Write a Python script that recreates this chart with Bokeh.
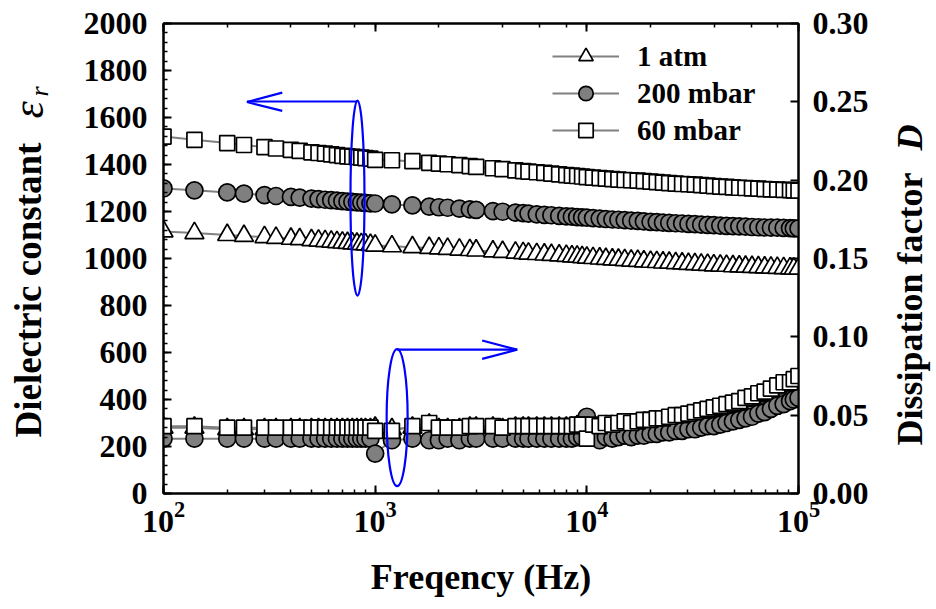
import math
from bokeh.plotting import figure
from bokeh.layouts import row
from bokeh.models import (LogAxis, LinearAxis, Range1d, Legend, LegendItem, Label,
                          FixedTicker, SingleIntervalTicker, NumeralTickFormatter)
from bokeh.embed import file_html
from bokeh.resources import INLINE

# ---------------- data ----------------
freq = [100, 140, 200, 240, 300, 340, 400, 440, 500, 540, 580, 620, 660, 700, 740, 780, 820, 860, 900, 950, 1000,
        1200, 1500, 1800, 2000, 2200, 2500, 2800, 3000, 3600, 4000, 4600, 5000, 5300, 5800, 6300, 6800, 7400, 8000,
        8500, 9000, 9500, 10000,
        10700, 11500, 12300, 13200, 14100, 15100, 16200, 17400, 18600, 20000, 21400, 22900, 24500, 26300, 28200,
        30200, 32400, 34700, 37200, 39800, 42700, 45700, 49000, 52500, 56200, 60300, 64600, 69200, 74100, 79400,
        85100, 91200, 95000, 100000]

eps_60mbar = [1519, 1505, 1491, 1483, 1474, 1468, 1462, 1458, 1452, 1449, 1446, 1443, 1440, 1437, 1435, 1433, 1431,
              1429, 1427, 1425, 1420,
              1418, 1414, 1407, 1404, 1401, 1397, 1393, 1390, 1384, 1380, 1375, 1372, 1370, 1367, 1364, 1361, 1358,
              1355, 1353, 1351, 1349, 1346,
              1344, 1342, 1340, 1338, 1336, 1334, 1333, 1331, 1329, 1327, 1325, 1323, 1321, 1319, 1317, 1316, 1314,
              1312, 1310, 1308, 1306, 1305, 1303, 1301, 1300, 1298, 1297, 1295, 1294, 1293, 1292, 1291, 1290, 1289]

eps_200mbar = [1298, 1290, 1281, 1276, 1270, 1266, 1262, 1259, 1255, 1253, 1250, 1248, 1246, 1244, 1242, 1241, 1239,
               1238, 1237, 1235, 1234,
               1230, 1226, 1221, 1218, 1216, 1212, 1209, 1207, 1202, 1199, 1195, 1193, 1191, 1188, 1186, 1184, 1181,
               1179, 1178, 1176, 1175, 1174,
               1172, 1170, 1168, 1166, 1165, 1163, 1161, 1160, 1158, 1156, 1155, 1153, 1152, 1150, 1149, 1147, 1146,
               1144, 1143, 1142, 1140, 1139, 1138, 1137, 1136, 1134, 1133, 1132, 1131, 1131, 1130, 1129, 1128, 1128]

eps_1atm = [1115, 1108, 1100, 1096, 1091, 1088, 1084, 1082, 1078, 1076, 1074, 1072, 1070, 1068, 1066, 1064, 1063,
            1061, 1060, 1058, 1055,
            1052, 1048, 1045, 1043, 1041, 1038, 1036, 1034, 1030, 1028, 1025, 1023, 1021, 1019, 1017, 1015, 1013,
            1011, 1009, 1008, 1006, 1004,
            1002, 1000, 998, 996, 995, 993, 991, 990, 988, 986, 985, 983, 982, 980, 979, 977, 976, 974, 973, 971,
            970, 969, 967, 966, 965, 964, 963, 962, 961, 960, 959, 958, 957, 957]

D_60mbar = [0.043, 0.043, 0.042, 0.042, 0.042, 0.042, 0.042, 0.042, 0.042, 0.042, 0.042, 0.042, 0.042, 0.042, 0.042,
            0.042, 0.042, 0.042, 0.042, 0.042, 0.040,
            0.040, 0.043, 0.045, 0.042, 0.042, 0.042, 0.043, 0.043, 0.043, 0.042, 0.043, 0.043, 0.043, 0.043, 0.043,
            0.043, 0.043, 0.043, 0.043, 0.044, 0.044, 0.035,
            0.044, 0.043, 0.045, 0.044, 0.045, 0.046, 0.045, 0.046, 0.047, 0.047, 0.048, 0.048, 0.049, 0.050, 0.050,
            0.051, 0.052, 0.053, 0.054, 0.055, 0.056, 0.057, 0.058, 0.059, 0.061, 0.062, 0.064, 0.065, 0.067, 0.069,
            0.071, 0.071, 0.073, 0.075]

D_200mbar = [0.035, 0.035, 0.035, 0.035, 0.035, 0.035, 0.035, 0.035, 0.035, 0.035, 0.035, 0.035, 0.035, 0.035,
             0.035, 0.035, 0.035, 0.035, 0.035, 0.035, 0.0255,
             0.034, 0.035, 0.034, 0.034, 0.035, 0.034, 0.035, 0.035, 0.035, 0.035, 0.035, 0.035, 0.035, 0.035, 0.035,
             0.035, 0.035, 0.035, 0.035, 0.036, 0.036, 0.049,
             0.036, 0.034, 0.036, 0.035, 0.036, 0.037, 0.036, 0.037, 0.037, 0.038, 0.038, 0.039, 0.039, 0.040, 0.040,
             0.041, 0.041, 0.042, 0.043, 0.043, 0.044, 0.045, 0.046, 0.047, 0.048, 0.049, 0.051, 0.052, 0.054, 0.056,
             0.057, 0.059, 0.060, 0.061]

D_1atm = [0.042, 0.042, 0.041, 0.041, 0.041, 0.041, 0.041, 0.041, 0.041, 0.041, 0.041, 0.041, 0.041, 0.041, 0.041,
          0.041, 0.041, 0.041, 0.041, 0.041, 0.042,
          0.041, 0.042, 0.044, 0.041, 0.041, 0.041, 0.042, 0.042, 0.042, 0.041, 0.042, 0.042, 0.042, 0.042, 0.042,
          0.042, 0.042, 0.042, 0.042, 0.043, 0.043, 0.040,
          0.042, 0.041, 0.043, 0.042, 0.043, 0.044, 0.043, 0.044, 0.045, 0.045, 0.046, 0.046, 0.047, 0.048, 0.048,
          0.049, 0.050, 0.051, 0.052, 0.053, 0.054, 0.055, 0.056, 0.057, 0.059, 0.060, 0.062, 0.063, 0.065, 0.067,
          0.069, 0.069, 0.071, 0.073]

series_labels = ["1 atm", "200 mbar", "60 mbar"]
D_ticks = [0.0, 0.05, 0.10, 0.15, 0.20, 0.25, 0.30]

# ---------------- styling ----------------
FONT = "Liberation Serif"
LINE_GREY = "#808080"
FILL_GREY = "#7f7f7f"
H = 609
LEFT_W, RIGHT_W = 60, 56
MAIN_W = 936 - LEFT_W - RIGHT_W
FRAME_BOTTOM = 493      # canvas y of the plot frame's bottom edge
X_SHIFT = 14            # measured offset of the side strips' frames

p = figure(width=MAIN_W, height=H, x_axis_type="log",
           x_range=Range1d(100, 100000), y_range=Range1d(0, 2000),
           output_backend="svg", toolbar_location=None,
           min_border_left=163 - LEFT_W, min_border_right=MAIN_W + LEFT_W - 798,
           min_border_top=23, min_border_bottom=H - FRAME_BOTTOM)
p.extra_y_ranges = {"D": Range1d(0, 0.30)}
p.xgrid.visible = False
p.ygrid.visible = False
p.outline_line_color = "black"
p.outline_line_width = 2
p.background_fill_color = "white"
p.border_fill_color = "white"


def style_axis(ax, minor=True):
    ax.axis_line_width = 2
    ax.axis_line_color = "black"
    ax.major_tick_in = 8
    ax.major_tick_out = 0
    ax.major_tick_line_width = 2
    if minor:
        ax.minor_tick_in = 4
        ax.minor_tick_out = 0
        ax.minor_tick_line_width = 1.5
    else:
        ax.minor_tick_line_color = None
    ax.major_label_text_font = FONT
    ax.major_label_text_font_style = "bold"
    ax.major_label_text_font_size = "32px"
    ax.major_label_text_color = "black"
    ax.axis_label_text_font = FONT
    ax.axis_label_text_font_style = "bold"
    ax.axis_label_text_font_size = "36px"
    ax.axis_label_text_color = "black"


# bottom axis
xa = p.xaxis[0]
style_axis(xa)
xa.major_label_standoff = 8
xa.axis_label = "Freqency (Hz)"
xa.axis_label_standoff = 22

# left axis
ya = p.yaxis[0]
style_axis(ya)
ya.ticker = SingleIntervalTicker(interval=200, num_minor_ticks=5)
ya.major_label_standoff = 16

# top axis (ticks only)
top = LogAxis()
style_axis(top)
top.major_label_text_font_size = "1px"
top.major_label_overrides = {100: "", 1000: "", 10000: "", 100000: ""}
top.major_label_standoff = 0
p.add_layout(top, "above")

# right axis
ra = LinearAxis(y_range_name="D", ticker=FixedTicker(ticks=D_ticks),
                formatter=NumeralTickFormatter(format="0.00"))
style_axis(ra, minor=False)
ra.major_label_standoff = 14
p.add_layout(ra, "right")

# ---------------- series ----------------
markers = [("triangle", "white", 19), ("circle", FILL_GREY, 17), ("square", "white", 15)]
eps_all = [eps_1atm, eps_200mbar, eps_60mbar]
D_all = [D_1atm, D_200mbar, D_60mbar]
legend_items = []
for lab, eps, D, (mk, fc, sz) in zip(series_labels, eps_all, D_all, markers):
    l1 = p.line(freq, eps, line_color=LINE_GREY, line_width=2)
    s1 = p.scatter(freq, eps, marker=mk, size=sz, fill_color=fc, line_color="black", line_width=1.7)
    p.line(freq, D, line_color=LINE_GREY, line_width=2, y_range_name="D")
    p.scatter(freq, D, marker=mk, size=sz, fill_color=fc, line_color="black", line_width=1.7,
              y_range_name="D")
    legend_items.append(LegendItem(label=lab, renderers=[l1, s1]))

legend = Legend(items=legend_items, location=(389, 345), padding=0, spacing=1, margin=0,
                glyph_width=67, glyph_height=36, label_standoff=18,
                label_text_font=FONT, label_text_font_style="bold", label_text_font_size="29px",
                label_text_color="black",
                background_fill_alpha=0, border_line_alpha=0)
p.add_layout(legend, "center")

# ---------------- blue annotations (arrows + ellipses) ----------------
BLUE = "#0000ff"
ell_x = [825, 1270]
ell_y = [1257, 323]
ell_w = [14, 21]
ell_h = [195, 137]
p.ellipse(x=ell_x, y=ell_y, width=ell_w, height=ell_h, width_units="screen", height_units="screen",
          fill_alpha=0, line_color=BLUE, line_width=2.2)
arrow_xs = [[825, 248], [364, 248, 364], [1270, 4686], [3202, 4686, 3202]]
arrow_ys = [[1668, 1668], [1706, 1666, 1628], [612, 612], [651, 612, 573]]
p.multi_line(xs=arrow_xs, ys=arrow_ys, line_color=BLUE, line_width=2.2)


# ---------------- side strips carrying the rotated axis titles ----------------
def title_strip(width):
    f = figure(width=width, height=H, x_range=Range1d(0, 1), y_range=Range1d(0, 1),
               output_backend="svg", toolbar_location=None,
               x_axis_location=None, y_axis_location=None, min_border=0)
    f.xgrid.visible = False
    f.ygrid.visible = False
    f.outline_line_color = None
    f.background_fill_color = "white"
    f.border_fill_color = "white"
    return f


def vlabel(f, text, canvas_x, canvas_y, strip_left, size, style):
    f.add_layout(Label(x=canvas_x - strip_left - X_SHIFT, y=FRAME_BOTTOM - canvas_y,
                       x_units="screen", y_units="screen", text=text, angle=math.pi / 2,
                       text_font=FONT, text_font_size=size, text_font_style=style,
                       text_align="left", text_baseline="alphabetic", text_color="black"))


lf = title_strip(LEFT_W)
vlabel(lf, "Dielectric constant", 42, 437, 0, "37px", "bold")
vlabel(lf, "\u03b5", 42, 118, 0, "44px", "italic")
vlabel(lf, "r", 53, 96, 0, "26px", "italic")

rf = title_strip(RIGHT_W)
right_left = 936 - RIGHT_W
vlabel(rf, "Dissipation factor", 923, 445, right_left, "36px", "bold")
vlabel(rf, "D", 923, 150, right_left, "36px", "bold italic")

layout = row(lf, p, rf)
open("out.html", "w").write(file_html(layout, INLINE))
